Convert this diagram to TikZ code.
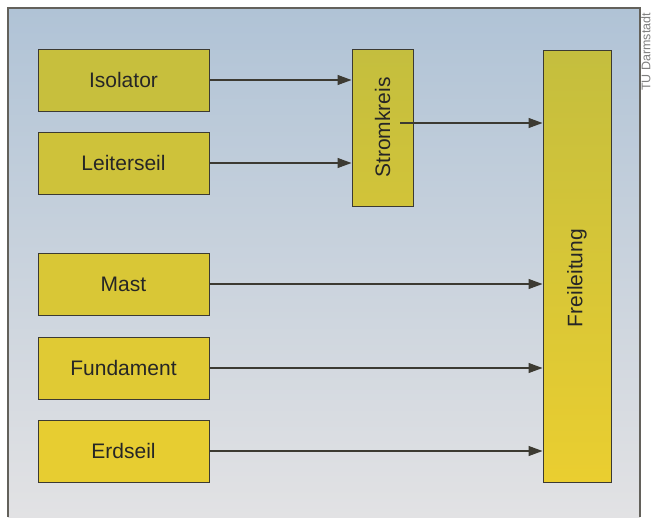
\documentclass[tikz,border=0pt]{standalone}
\usepackage{fontspec}
\setmainfont{Liberation Sans}
\usetikzlibrary{arrows.meta,positioning}
\definecolor{skyTop}{RGB}{176,195,214}
\definecolor{skyBot}{RGB}{226,226,228}
\definecolor{boxTop}{RGB}{196,190,62}
\definecolor{boxBot}{RGB}{234,206,48}
\definecolor{edge}{RGB}{60,58,50}

\begin{document}
\begin{tikzpicture}[x=1pt,y=-1pt,
    block/.style={
      draw=edge,
      line width=1pt,
      minimum width=171pt,
      minimum height=62pt,
      inner sep=0pt,
      text=black!85,
      font=\fontsize{21}{25}\selectfont
    },
    >={Triangle[length=14pt,width=10pt]},
    link/.style={->, draw=edge, line width=1.1pt}
  ]
  \useasboundingbox (0,0) rectangle (653,517);
  \fill[white] (0,0) rectangle (653,517);
  \shade[top color=skyTop, bottom color=skyBot] (8,8) rectangle (640,517);
  \draw[edge!80, line width=1.2pt] (8,517) -- (8,8) -- (640,8) -- (640,517);
  \node[rotate=90, text=gray, inner sep=0pt, font=\fontsize{12.5}{14}\selectfont] (tud) at (646,52) {TU Darmstadt};
  % parts
  \node[block, fill=boxBot!8!boxTop] (Isolator) at (123.5,80) {Isolator};
  \node[block, fill=boxBot!26!boxTop] (Leiterseil) at (123.5,163) {Leiterseil};
  \node[block, fill=boxBot!54!boxTop] (Mast) at (123.5,284) {Mast};
  \node[block, fill=boxBot!74!boxTop] (Fundament) at (123.5,368) {Fundament};
  \node[block, fill=boxBot!93!boxTop] (Erdseil) at (123.5,451) {Erdseil};
  \node[block, minimum width=61pt, minimum height=157pt,
    top color=boxTop, bottom color=boxBot!36!boxTop] (Stromkreis) at (382.5,127.5) {\rotatebox{90}{Stromkreis}};
  \node[block, minimum width=68pt, minimum height=432pt,
    top color=boxTop, bottom color=boxBot] (Freileitung) at (577,266) {\rotatebox{90}{Freileitung\hspace{24pt}}};
  % links
  \draw[link] (Isolator.east) -- (Isolator.east -| Stromkreis.west);
  \draw[link] (Leiterseil.east) -- (Leiterseil.east -| Stromkreis.west);
  \coordinate (feed) at (400,123);
  \draw[link] (feed) -- (feed -| Freileitung.west);
  \foreach \n in {Mast,Fundament,Erdseil}
    \draw[link] (\n.east) -- (\n.east -| Freileitung.west);
\end{tikzpicture}
\end{document}
